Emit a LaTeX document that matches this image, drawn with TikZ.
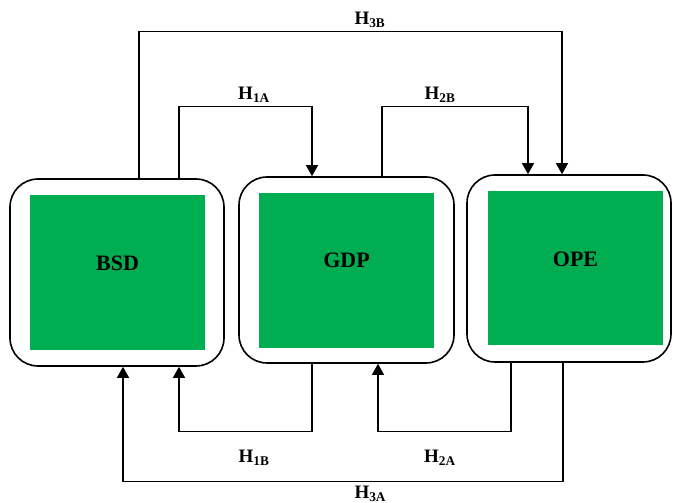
\documentclass[tikz,border=0pt]{standalone}
\usepackage{fontspec}
\setmainfont{Liberation Serif}
\usepackage{tikz}
\usetikzlibrary{arrows.meta}
\definecolor{boxgreen}{RGB}{0,173,80}
\tikzstyle{roundbox}=[draw,line width=1.6pt,rounded corners=28pt,minimum width=214pt,minimum height=187pt,inner sep=0pt]
\tikzstyle{greenbox}=[fill=boxgreen,minimum width=175pt,minimum height=155pt,inner sep=0pt]
\tikzstyle{boxtext}=[font=\fontsize{22}{26}\selectfont\bfseries]
\tikzstyle{hlabel}=[font=\fontsize{19}{22}\selectfont\bfseries]
\tikzstyle{link}=[line width=1.3pt,-{Triangle[width=12pt,length=11pt]}]

\begin{document}
\begin{tikzpicture}[x=1pt,y=1pt]
        \useasboundingbox (0,0) rectangle (673,503);
        \node[roundbox] (bsd) at (117,230.5) {};
        \node[roundbox,minimum width=215pt,minimum height=186pt] (gdp) at (346.5,233) {};
        \node[roundbox,minimum width=204pt] (ope) at (569,234.5) {};
        \node[greenbox,label={[boxtext,yshift=9pt]center:BSD}] (bsdin) at (117.5,230.5) {};
        \node[greenbox,label={[boxtext,yshift=10pt]center:GDP}] (gdpin) at (346.5,232.5) {};
        \node[greenbox,minimum height=154pt,label={[boxtext,yshift=9pt]center:OPE}] (opein) at (575.5,235) {};
        \draw[link] ([xshift=22pt]bsd.north) -- ++(0,147) -| ([xshift=-7pt]ope.north)
            node[hlabel,pos=0.273,above] {H\textsubscript{3B}};
        \draw[link] ([xshift=62pt]bsd.north) -- ++(0,72) -| ([xshift=-34.5pt]gdp.north)
            node[hlabel,pos=0.282,above] {H\textsubscript{1A}};
        \draw[link] ([xshift=35.5pt]gdp.north) -- ++(0,70) -| ([xshift=-41pt]ope.north)
            node[hlabel,pos=0.199,above] {H\textsubscript{2B}};
        \draw[link] ([xshift=-34.5pt]gdp.south) -- ++(0,-68) -| ([xshift=62pt]bsd.south)
            node[hlabel,pos=0.218,below=14pt] {H\textsubscript{1B}};
        \draw[link] ([xshift=-58pt]ope.south) -- ++(0,-69) -| ([xshift=31.5pt]gdp.south)
            node[hlabel,pos=0.267,below=14pt] {H\textsubscript{2A}};
        \draw[link] ([xshift=-6pt]ope.south) -- ++(0,-119) -| ([xshift=6pt]bsd.south)
            node[hlabel,pos=0.219,below] {H\textsubscript{3A}};
\end{tikzpicture}
\end{document}
